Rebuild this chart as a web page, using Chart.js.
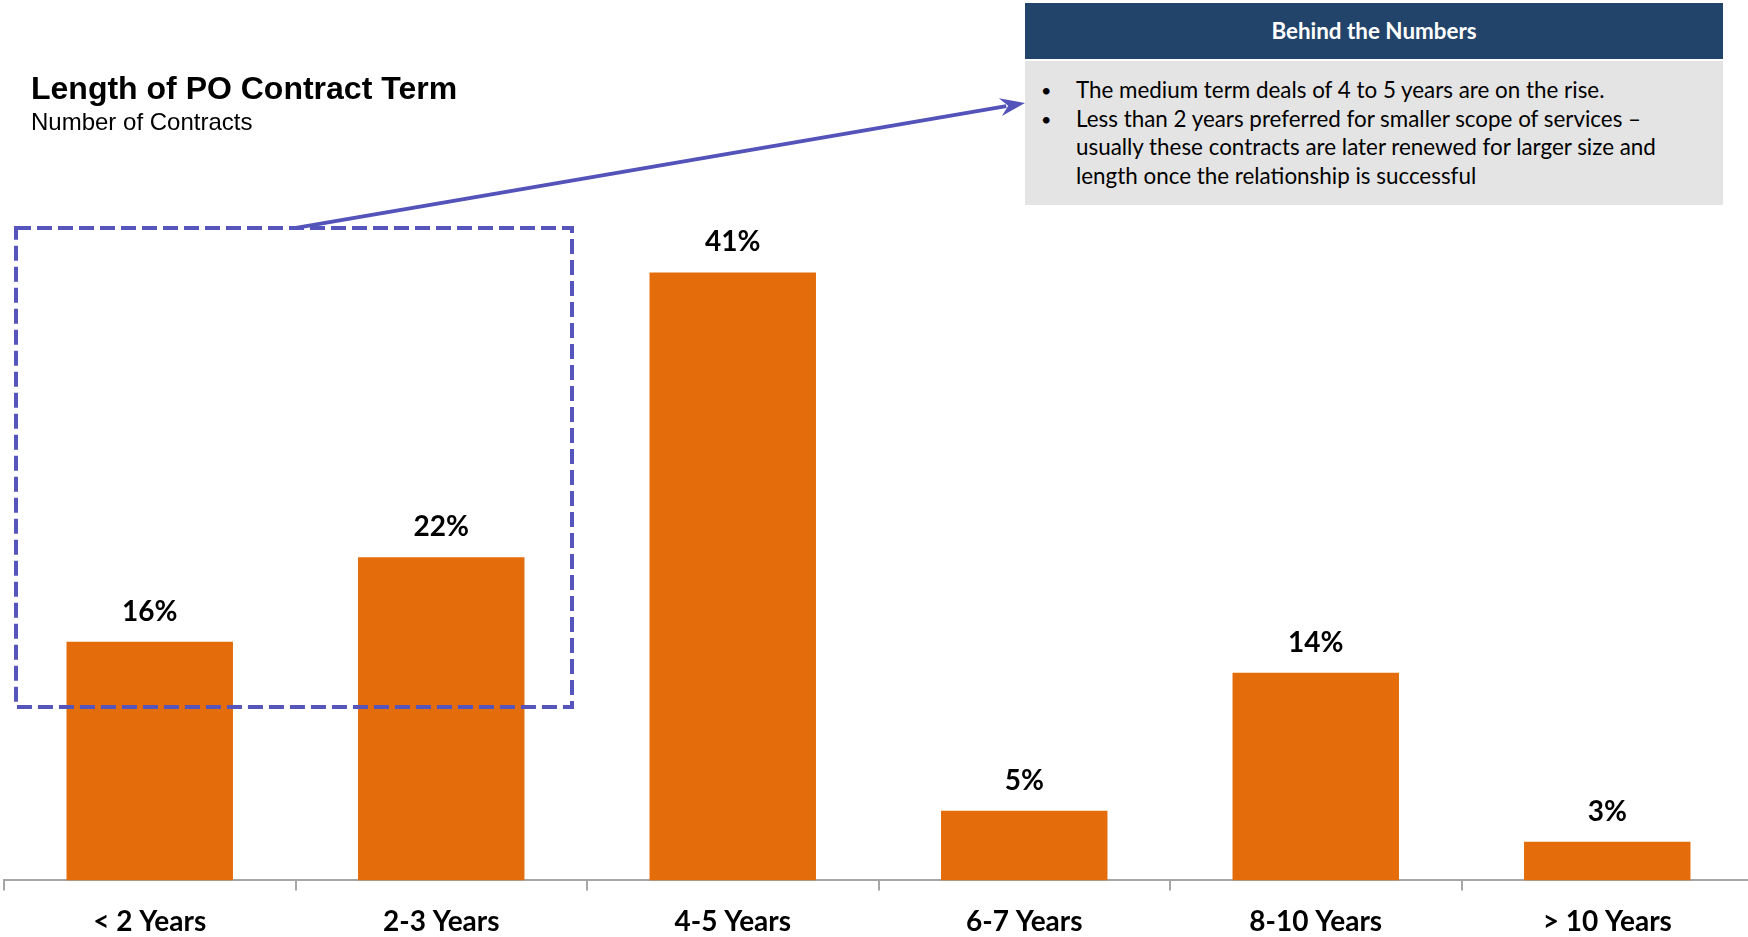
<!DOCTYPE html>
<html>
<head>
<meta charset="utf-8">
<script src="https://cdn.jsdelivr.net/npm/chart.js@4/dist/chart.umd.min.js"></script>
<style>
  html, body { margin: 0; padding: 0; background: #fff; width: 1748px; height: 937px; overflow: hidden; }
  #wrap { position: relative; width: 1748px; height: 937px; overflow: hidden; }
  canvas { position: absolute; left: 0; top: 0; }
  .title { position: absolute; left: 31px; top: 72px; font-family: "Liberation Sans", Arial, sans-serif; font-weight: bold; font-size: 32px; line-height: 32px; color: #000; white-space: nowrap; }
  .subtitle { position: absolute; left: 31px; top: 110px; font-family: "Liberation Sans", Arial, sans-serif; font-size: 24px; line-height: 24px; color: #000; white-space: nowrap; }
  .boxhead { position: absolute; left: 1025px; top: 3px; width: 698px; height: 56px; background: #23446A; color: #fff; font-family: Lato, "Open Sans", sans-serif; font-weight: bold; font-size: 22.4px; line-height: 56px; text-align: center; }
  .boxbody { position: absolute; left: 1025px; top: 61px; width: 698px; height: 144px; background: #E4E4E4; box-sizing: border-box; padding-top: 15px; font-family: Lato, "Open Sans", sans-serif; font-size: 22.4px; line-height: 28.6px; color: #000; }
  .item { position: relative; padding-left: 51px; white-space: nowrap; }
  .item::before { content: "•"; position: absolute; left: 16px; top: 0; font-size: 18px; }
</style>
</head>
<body>
<div id="wrap">
  <canvas id="c" width="1753" height="937"></canvas>
  <div class="title">Length of PO Contract Term</div>
  <div class="subtitle">Number of Contracts</div>
  <div class="boxhead">Behind the Numbers</div>
  <div class="boxbody">
    <div class="item">The medium term deals of 4 to 5 years are on the rise.</div>
    <div class="item">Less than 2 years preferred for smaller scope of services –<br>usually these contracts are later renewed for larger size and<br>length once the relationship is successful</div>
  </div>
</div>
<script>
const categories = ['< 2 Years', '2-3 Years', '4-5 Years', '6-7 Years', '8-10 Years', '> 10 Years'];
const shares = [16.1, 21.8, 41, 4.7, 14, 2.6];
const shareLabels = ['16%', '22%', '41%', '5%', '14%', '3%'];

const barLabelPlugin = {
  id: 'barLabels',
  afterDatasetsDraw(chart) {
    const ctx = chart.ctx;
    const meta = chart.getDatasetMeta(0);
    ctx.save();
    ctx.font = 'bold 28px Lato, "Open Sans", sans-serif';
    ctx.fillStyle = '#000';
    ctx.textAlign = 'center';
    ctx.textBaseline = 'middle';
    meta.data.forEach((bar, i) => {
      ctx.fillText(shareLabels[i], bar.x, bar.y - 30);
    });
    ctx.restore();
  }
};

const calloutPlugin = {
  id: 'callout',
  afterDraw(chart) {
    const ctx = chart.ctx;
    const xs = chart.scales.x, ys = chart.scales.y;
    const catW = xs.width / categories.length;
    const left = xs.left + 12;
    const right = xs.getPixelForValue(1) + catW / 2 - 15;
    const top = ys.getPixelForValue(44);
    const bottom = ys.getPixelForValue(11.7);
    ctx.save();
    ctx.strokeStyle = '#5555BB';
    ctx.lineWidth = 4;
    ctx.setLineDash([15, 6]);
    ctx.strokeRect(left, top, right - left, bottom - top);
    ctx.setLineDash([]);
    // arrow
    const sx = left + 280, sy = top;
    const ex = 1025, ey = 103;
    const ang = Math.atan2(ey - sy, ex - sx);
    const hl = 25, hw = 9;
    const bx = ex - Math.cos(ang) * (hl - 6), by = ey - Math.sin(ang) * (hl - 6);
    ctx.strokeStyle = '#5353BA';
    ctx.lineWidth = 3.8;
    ctx.beginPath();
    ctx.moveTo(sx, sy);
    ctx.lineTo(bx, by);
    ctx.stroke();
    ctx.fillStyle = '#5353BA';
    const cx = Math.cos(ang), sn = Math.sin(ang);
    const back = { x: ex - cx * hl, y: ey - sn * hl };
    ctx.beginPath();
    ctx.moveTo(ex, ey);
    ctx.lineTo(back.x - sn * hw, back.y + cx * hw);
    ctx.lineTo(ex - cx * (hl - 8), ey - sn * (hl - 8));
    ctx.lineTo(back.x + sn * hw, back.y - cx * hw);
    ctx.closePath();
    ctx.fill();
    ctx.restore();
  }
};

new Chart(document.getElementById('c'), {
  type: 'bar',
  data: {
    labels: categories,
    datasets: [{
      data: shares,
      backgroundColor: '#E46C0A',
      borderWidth: 0,
      categoryPercentage: 1,
      barPercentage: 0.571
    }]
  },
  options: {
    responsive: false,
    animation: false,
    devicePixelRatio: 1,
    layout: { padding: { top: 139, left: 4, right: 0, bottom: -17 } },
    plugins: { legend: { display: false }, tooltip: { enabled: false }, title: { display: false } },
    scales: {
      x: {
        grid: { display: true, drawOnChartArea: false, drawTicks: true, tickLength: 10, color: '#A6A6A6', lineWidth: 2, offset: true },
        border: { display: true, color: '#A6A6A6', width: 2 },
        ticks: { color: '#000', padding: 15, font: { family: 'Lato, "Open Sans", sans-serif', weight: 'bold', size: 28 } }
      },
      y: { display: false, min: 0, max: 50 }
    }
  },
  plugins: [barLabelPlugin, calloutPlugin]
});
</script>
</body>
</html>
